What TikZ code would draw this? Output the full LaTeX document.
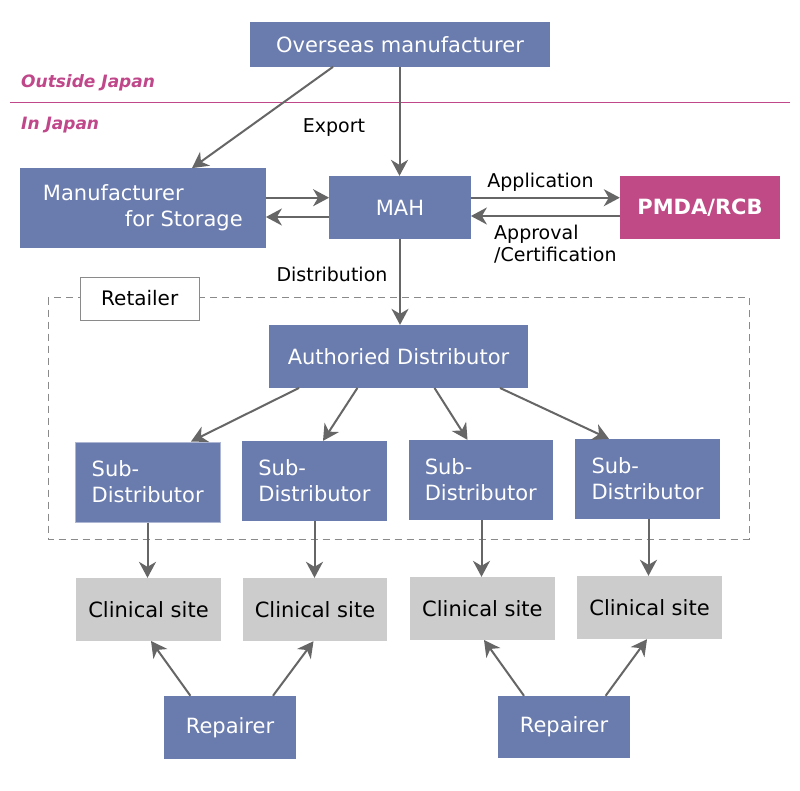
\documentclass[tikz,border=0pt]{standalone}
\usepackage{fontspec}
\setmainfont{DejaVu Sans}
\usetikzlibrary{arrows.meta}
\definecolor{boxblue}{HTML}{6A7BAD}
\definecolor{pmdamag}{HTML}{C04A86}
\definecolor{zonemag}{HTML}{C0478A}
\definecolor{sitegray}{HTML}{CCCCCC}
\definecolor{arrgray}{HTML}{666666}
\definecolor{dashgray}{HTML}{8A8A8A}
\tikzset{
  bluebox/.style={fill=boxblue, text=white, inner sep=0pt, font=\fontsize{21}{26}\selectfont},
  pmdabox/.style={fill=pmdamag, text=white, inner sep=0pt, font=\bfseries\fontsize{21}{26}\selectfont},
  sitebox/.style={fill=sitegray, text=black, inner sep=0pt, font=\fontsize{21}{26}\selectfont},
  retbox/.style={fill=white, draw=dashgray, line width=1pt, inner sep=0pt, font=\fontsize{20}{24}\selectfont},
  lbl/.style={inner sep=0pt, text=black, font=\fontsize{19}{22}\selectfont},
  zonelbl/.style={inner sep=0pt, text=zonemag, font=\bfseries\itshape\fontsize{17}{20}\selectfont},
  arr/.style={draw=arrgray, line width=2pt, -{Stealth[length=16pt,width=17pt,inset=5pt]}},
}
\begin{document}
\begin{tikzpicture}[x=1pt,y=-1pt]
\useasboundingbox[fill=white] (0,0) rectangle (800,790);

% zone divider
\draw[zonemag, line width=1pt] (10,102.3) -- (790,102.3);
\node[zonelbl, anchor=base west] (outside) at (21,87) {Outside Japan};
\node[zonelbl, anchor=base west] (inside) at (21,129) {In Japan};

% retailer dashed region
\draw[dashgray, line width=1pt, dash pattern=on 7pt off 5pt] (48,297.7) rectangle (749,539);

% boxes
\node[bluebox, minimum width=300pt, minimum height=44.7pt] (over) at (400,44.3) {Overseas manufacturer};
\node[bluebox, minimum width=245.7pt, minimum height=79.4pt, align=left] (stor) at (142.85,208) {Manufacturer\\\hspace*{82pt}for Storage};
\node[bluebox, minimum width=141.4pt, minimum height=62.7pt] (mah) at (400,207.4) {MAH};
\node[pmdabox, minimum width=160pt, minimum height=62.7pt] (pmda) at (700,207.4) {PMDA/RCB};
\node[bluebox, minimum width=259pt, minimum height=62.7pt] (auth) at (398.5,356.4) {Authoried Distributor};
\node[retbox, minimum width=119pt, minimum height=43pt] (ret) at (139.7,298.5) {Retailer};

\node[bluebox, draw=boxblue!55!white, line width=1pt, minimum width=144.7pt, minimum height=80pt, align=left] (sub1) at (147.7,482) {Sub-\\Distributor};
\node[bluebox, minimum width=144.2pt, minimum height=79.7pt, align=left] (sub2) at (314.4,480.9) {Sub-\\Distributor};
\node[bluebox, minimum width=144pt, minimum height=79.7pt, align=left] (sub3) at (480.8,479.9) {Sub-\\Distributor};
\node[bluebox, minimum width=145pt, minimum height=79.7pt, align=left] (sub4) at (647.5,478.9) {Sub-\\Distributor};

\node[sitebox, minimum width=145pt, minimum height=62.7pt] (cl1) at (148.5,609.4) {Clinical site};
\node[sitebox, minimum width=144.8pt, minimum height=63pt] (cl2) at (315,609.5) {Clinical site};
\node[sitebox, minimum width=144.8pt, minimum height=62.7pt] (cl3) at (482.4,608.4) {Clinical site};
\node[sitebox, minimum width=145pt, minimum height=63pt] (cl4) at (649.5,607.5) {Clinical site};

\node[bluebox, minimum width=132pt, minimum height=62.7pt] (rep1) at (230,727.3) {Repairer};
\node[bluebox, minimum width=132pt, minimum height=62pt] (rep2) at (564,727) {Repairer};

% labels
\node[lbl, anchor=base] (export) at (334,132) {Export};
\node[lbl, anchor=base] (appl) at (540.5,187.7) {Application};
\node[lbl, anchor=north west, align=left] (appr) at (494,224.6) {Approval\\/Certification};
\node[lbl, anchor=base] (distr) at (332,281) {Distribution};

% connectors
\draw[arr] (over.south -| 333,0) -- (stor.north -| 192,0);
\draw[arr] (over.south -| 399.5,0) -- (mah.north -| 399.5,0);
\draw[arr] (stor.east |- 0,197.7) -- (mah.west |- 0,197.7);
\draw[arr] (mah.west |- 0,217) -- (stor.east |- 0,217);
\draw[arr] (mah.east |- 0,197.7) -- (pmda.west |- 0,197.7);
\draw[arr] (pmda.west |- 0,216) -- (mah.east |- 0,216);
\draw[arr] (mah.south -| 400,0) -- (auth.north -| 400,0);

\draw[arr] (auth.south -| 299,0) -- (sub1.north -| 191,0);
\draw[arr] (auth.south -| 357.4,0) -- (sub2.north -| 323,0);
\draw[arr] (auth.south -| 434.5,0) -- (sub3.north -| 467.5,0);
\draw[arr] (auth.south -| 500,0) -- (sub4.north -| 609,0);

\draw[arr] (sub1.south -| 147.5,0) -- (cl1.north -| 147.5,0);
\draw[arr] (sub2.south -| 314.5,0) -- (cl2.north -| 314.5,0);
\draw[arr] (sub3.south -| 481.5,0) -- (cl3.north -| 481.5,0);
\draw[arr] (sub4.south -| 648.5,0) -- (cl4.north -| 648.5,0);

\draw[arr] (rep1.north -| 190.4,0) -- (cl1.south -| 151,0);
\draw[arr] (rep1.north -| 273,0) -- (cl2.south -| 313.5,0);
\draw[arr] (rep2.north -| 524,0) -- (cl3.south -| 484,0);
\draw[arr] (rep2.north -| 605.6,0) -- (cl4.south -| 647,0);
\end{tikzpicture}
\end{document}
